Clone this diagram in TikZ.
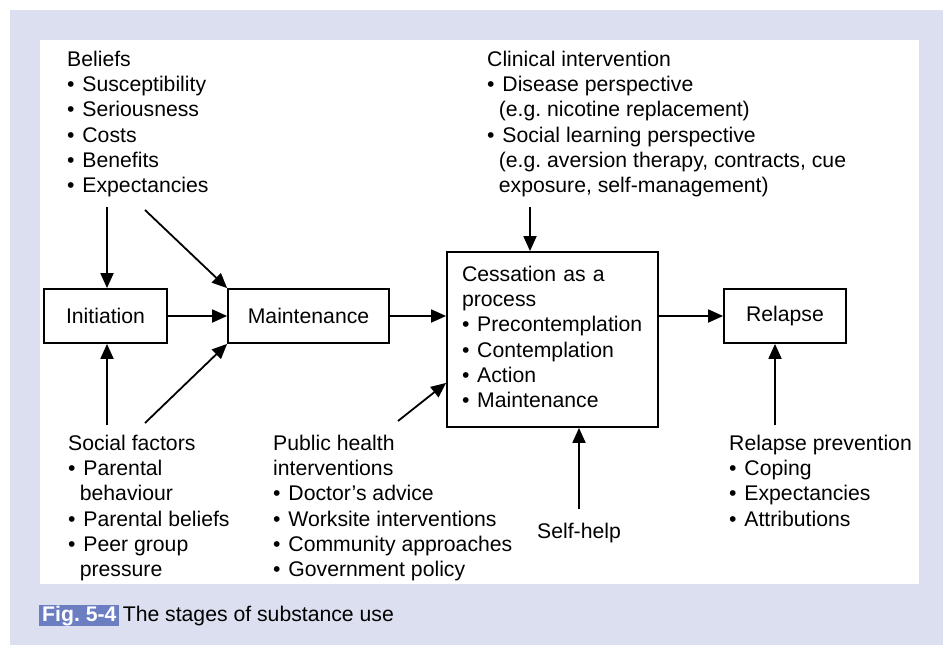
\documentclass[tikz,border=0pt]{standalone}
\usepackage{fontspec}
\setmainfont{Liberation Sans}
\usetikzlibrary{arrows.meta}

\definecolor{panelbg}{RGB}{220,223,240}
\definecolor{figblue}{RGB}{108,126,194}

\newcommand{\itm}{\makebox[0.72em][l]{\textbullet}}
\newcommand{\cnt}{\hspace*{0.55em}}

\tikzset{
  stagebox/.style={draw, line width=1.8pt, minimum height=54pt, inner sep=0pt},
  blocktext/.style={anchor=north west, align=left, inner sep=0pt},
  flow/.style={line width=1.8pt, -{Triangle[length=15pt,width=13pt]}},
}

\begin{document}
\begin{tikzpicture}[x=1pt, y=-1pt, font=\fontsize{21.2}{25.3}\selectfont]

    % Background and panel
    \useasboundingbox (0,0) rectangle (943,645);
    \fill[panelbg] (10,10) rectangle (943,645);
    \fill[white] (40,40) rectangle (919,584);

    % Stage boxes
    \node[stagebox, minimum width=123pt] (init) at (105.5,316) {Initiation};
    \node[stagebox, minimum width=161pt] (maint) at (308.5,316) {Maintenance};
    \node[stagebox, align=left, text width=181pt, inner xsep=15pt, minimum height=175pt] (cess) at (552.5,339.5)
      {\strut Cessation as a\\process\\\itm Precontemplation\\\itm Contemplation\\\itm Action\\\itm Maintenance\strut};
    \node[stagebox, minimum width=122pt] (rel) at (785,316) {Relapse};

    % Text blocks
    \node[blocktext] (beliefs) at (67,48.3)
      {\strut Beliefs\\\itm Susceptibility\\\itm Seriousness\\\itm Costs\\\itm Benefits\\\itm Expectancies};
    \node[blocktext] (clinical) at (487,48.3)
      {\strut Clinical intervention\\\itm Disease perspective\\\cnt(e.g.\ nicotine replacement)\\\itm Social learning perspective\\\cnt(e.g.\ aversion therapy, contracts, cue\\\cnt exposure, self-management)};
    \node[blocktext] (social) at (68,432.3)
      {\strut Social factors\\\itm Parental\\\cnt behaviour\\\itm Parental beliefs\\\itm Peer group\\\cnt pressure};
    \node[blocktext] (public) at (273,432.3)
      {\strut Public health\\interventions\\\itm Doctor's advice\\\itm Worksite interventions\\\itm Community approaches\\\itm Government policy};
    \node[blocktext] (selfhelp) at (537,520.3) {\strut Self-help};
    \node[blocktext] (prevent) at (729,432.3)
      {\strut Relapse prevention\\\itm Coping\\\itm Expectancies\\\itm Attributions};

    % Free ends of the arrows
    \coordinate (b1) at (107,207);
    \coordinate (b2) at (145,210);
    \coordinate (s1) at (107,425);
    \coordinate (s2) at (145,423);
    \coordinate (ph) at (398,421);
    \coordinate (ci) at (530,207);
    \coordinate (sh) at (579,509);
    \coordinate (rp) at (775,425);

    % Arrows
    \draw[flow] (b1) -- (b1 |- init.north);
    \draw[flow] (b2) -- (maint.north west);
    \draw[flow] (s1) -- (s1 |- init.south);
    \draw[flow] (s2) -- (maint.south west);
    \draw[flow] (init) -- (maint);
    \draw[flow] (maint) -- (maint -| cess.west);
    \draw[flow] (ph) -- ([yshift=45pt]cess.south west);
    \draw[flow] (ci) -- (ci |- cess.north);
    \draw[flow] (sh) -- (sh |- cess.south);
    \draw[flow] (cess.east |- rel.west) -- (rel.west);
    \draw[flow] (rp) -- (rp |- rel.south);

    % Caption
    \node[fill=figblue, text=white, font=\fontsize{21.2}{25.3}\selectfont\bfseries, inner xsep=3pt, inner ysep=0pt,
      text height=16pt, text depth=5pt, anchor=base west] (figlbl) at (39,621) {Fig.\ 5-4};
    \node[anchor=base west, inner sep=0pt] (figcap) at ([xshift=3pt]figlbl.base east) {The stages of substance use};

\end{tikzpicture}
\end{document}
